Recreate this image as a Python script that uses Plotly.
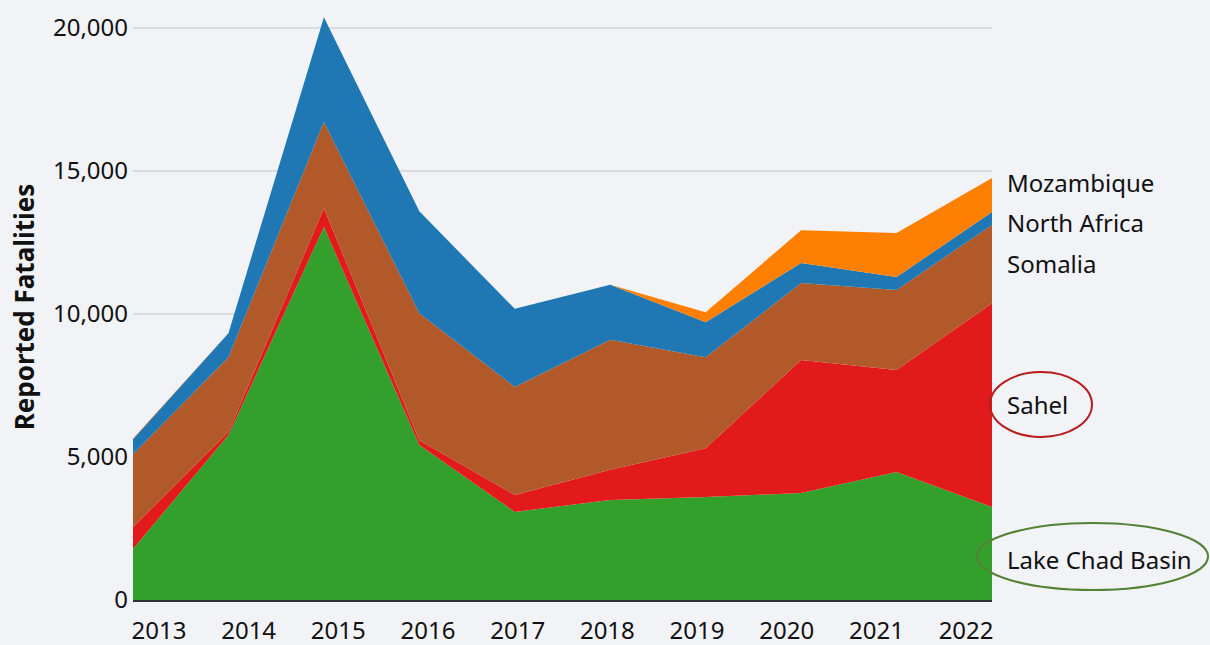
import plotly.graph_objects as go

years = [2013, 2014, 2015, 2016, 2017, 2018, 2019, 2020, 2021, 2022]
year_labels = [str(y) for y in years]

lake_chad = [1780, 5770, 13040, 5420, 3080, 3500, 3600, 3740, 4480, 3250]
sahel = [770, 100, 660, 170, 590, 1050, 1710, 4650, 3560, 7130]
somalia = [2550, 2620, 3010, 4440, 3780, 4550, 3180, 2690, 2800, 2730]
north_africa = [525, 840, 3670, 3560, 2730, 1920, 1220, 700, 455, 455]
mozambique = [25, 0, 0, 0, 0, 0, 350, 1150, 1540, 1190]

series = [
    ("Lake Chad Basin", lake_chad, "#33a02c"),
    ("Sahel", sahel, "#e31a1c"),
    ("Somalia", somalia, "#b15928"),
    ("North Africa", north_africa, "#1f78b4"),
    ("Mozambique", mozambique, "#ff7f00"),
]

BG = "#f2f3f7"
FONT = "Noto Sans"

fig = go.Figure()
for name, vals, col in series:
    fig.add_trace(go.Scatter(
        x=years, y=vals, name=name, mode="lines", stackgroup="one",
        line=dict(width=0, color=col), fillcolor=col, hoverinfo="skip",
    ))

# tick label positions (labels are spread slightly inside the data extent)
tick_pos = [2013.272 + i * 0.9396 for i in range(len(years))]

fig.update_layout(
    width=1210, height=645,
    margin=dict(l=133, r=218, t=14, b=45),
    paper_bgcolor=BG, plot_bgcolor=BG,
    showlegend=False,
    font=dict(family=FONT, color="#111111"),
    xaxis=dict(
        range=[2013, 2022], tickvals=tick_pos, ticktext=year_labels,
        showgrid=False, zeroline=False, showline=True, linecolor="#333333", linewidth=2,
        ticks="", ticklabelstandoff=8, automargin=False,
        tickfont=dict(size=24, family=FONT, color="#111111"),
    ),
    yaxis=dict(
        range=[0, 20490], tickvals=[0, 5000, 10000, 15000, 20000],
        ticktext=["0", "5,000", "10,000", "15,000", "20,000"],
        showgrid=True, gridcolor="#d9dbe0", gridwidth=1.5, zeroline=False,
        ticks="", ticklabelstandoff=4, automargin=False,
        tickfont=dict(size=24, family=FONT, color="#111111"),
        title=dict(text="<b>Reported Fatalities</b>", font=dict(size=26, family=FONT, color="#111111"), standoff=10),
    ),
)

labels = [
    ("Mozambique", 0.7133),
    ("North Africa", 0.645),
    ("Somalia", 0.575),
    ("Sahel", 0.3328),
    ("Lake Chad Basin", 0.0683),
]
for text, yp in labels:
    fig.add_annotation(
        x=1.0151, y=yp, xref="paper", yref="paper", text=text, showarrow=False,
        xanchor="left", yanchor="middle", font=dict(size=24, family=FONT, color="#111111"),
    )

fig.add_shape(type="circle", xref="paper", yref="paper",
              x0=0.9977, x1=1.1164, y0=0.2782, y1=0.389,
              line=dict(color="#b81c1c", width=2))
fig.add_shape(type="circle", xref="paper", yref="paper",
              x0=0.9825, x1=1.2515, y0=0.01706, y1=0.1314,
              line=dict(color="#548235", width=2))

fig.write_html("out.html", config={"displayModeBar": False},
               post_script="document.body.style.margin='0';")
